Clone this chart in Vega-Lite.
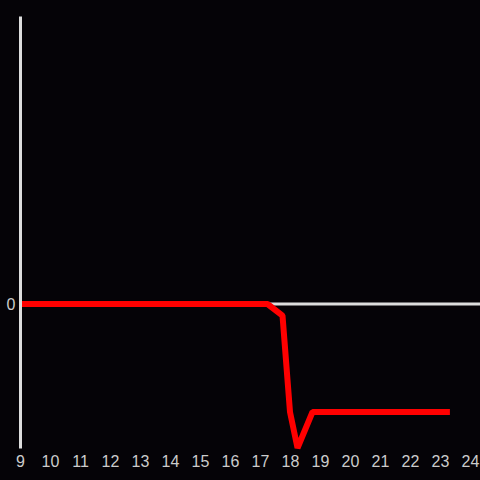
{
  "$schema": "https://vega.github.io/schema/vega-lite/v6.json",
  "width": 460,
  "height": 432,
  "autosize": {"type": "none"},
  "padding": {"left": 20, "top": 16, "right": 0, "bottom": 32},
  "background": "#050307",
  "config": {
    "view": {"stroke": null},
    "font": "Liberation Sans",
    "axis": {"labelFont": "Liberation Sans", "labelColor": "#cccccc", "labelFontSize": 16}
  },
  "layer": [
    {
      "data": {"values": [{"y": 0}]},
      "mark": {"type": "rule", "color": "#dddddd", "strokeWidth": 3},
      "encoding": {"y": {"datum": 0, "type": "quantitative", "scale": {"domain": [-1, 2]}}}
    },
    {
      "data": {
        "values": [
          {"hour": 9, "value": 0},
          {"hour": 17.25, "value": 0},
          {"hour": 17.75, "value": -0.08},
          {"hour": 18.0, "value": -0.75},
          {"hour": 18.25, "value": -1},
          {"hour": 18.75, "value": -0.75},
          {"hour": 23.33, "value": -0.75}
        ]
      },
      "mark": {"type": "line", "color": "#ff0000", "strokeWidth": 6, "strokeJoin": "bevel", "strokeCap": "butt"},
      "encoding": {
        "x": {
          "field": "hour",
          "type": "quantitative",
          "scale": {"domain": [9, 24.3333], "nice": false, "zero": false},
          "axis": {"title": null, "domain": false, "ticks": false, "grid": false, "format": "d", "values": [9,10,11,12,13,14,15,16,17,18,19,20,21,22,23,24], "labelPadding": 5, "labelFlush": false}
        },
        "y": {
          "field": "value",
          "type": "quantitative",
          "scale": {"domain": [-1, 2], "nice": false},
          "axis": {"title": null, "grid": false, "ticks": false, "values": [0], "format": "d", "domainColor": "#dddddd", "domainWidth": 3, "labelPadding": 5, "zindex": 1}
        }
      }
    }
  ]
}
